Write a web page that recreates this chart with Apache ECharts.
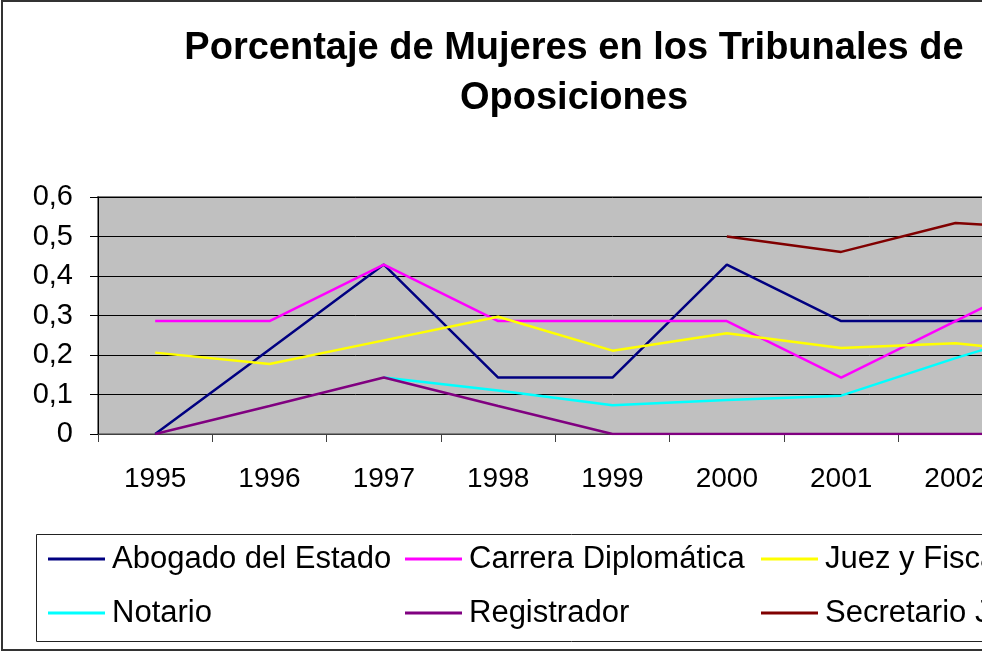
<!DOCTYPE html>
<html>
<head>
<meta charset="utf-8">
<script src="https://cdn.jsdelivr.net/npm/echarts@6/dist/echarts.min.js"></script>
<style>
html,body{margin:0;padding:0;overflow:hidden;background:#fff;width:982px;height:652px;}
#c{width:1148px;height:652px;}
</style>
</head>
<body>
<div id="c"></div>
<script>
const years = ['1995','1996','1997','1998','1999','2000','2001','2002','2003'];
const yTicks = [0, 0.1, 0.2, 0.3, 0.4, 0.5, 0.6];
const abogado = [0, 0.214, 0.429, 0.143, 0.143, 0.429, 0.286, 0.286, 0.286];
const carrera = [0.286, 0.286, 0.429, 0.286, 0.286, 0.286, 0.143, 0.286, 0.429];
const juez = [0.206, 0.177, 0.237, 0.297, 0.211, 0.255, 0.218, 0.230, 0.200];
const notario = [null, null, 0.143, 0.110, 0.073, 0.086, 0.097, 0.192, 0.280];
const registrador = [0, 0.071, 0.143, 0.071, 0, 0, 0, 0, 0];
const secretario = [null, null, null, null, null, 0.500, 0.461, 0.534, 0.517];

const names = ['Abogado del Estado','Carrera Diplomática','Juez y Fiscal','Notario','Registrador','Secretario Judicial'];
const colors = ['#000080','#FF00FF','#FFFF00','#00FFFF','#800080','#800000'];
const datas = [abogado, carrera, juez, notario, registrador, secretario];

const FONT = 'Liberation Sans, Arial, sans-serif';
const chart = echarts.init(document.getElementById('c'), null, {renderer:'canvas'});

function legendCol(left, items){
  return {
    orient:'vertical', left:left, top:543, padding:0,
    itemWidth:57, itemHeight:3, icon:'rect', itemGap:22,
    selectedMode:false,
    data:items,
    textStyle:{fontFamily:FONT, fontSize:31, color:'#000', lineHeight:32, padding:[0,0,0,2]}
  };
}

chart.setOption({
  backgroundColor:'#fff',
  animation:false,
  color:colors,
  title:{
    text:'Porcentaje de Mujeres en los Tribunales de\nOposiciones',
    left:'center', top:24, padding:0,
    textStyle:{fontFamily:FONT, fontSize:38, fontWeight:'bold', color:'#000', lineHeight:50}
  },
  legend:[
    legendCol(48, [names[0], names[3]]),
    legendCol(405, [names[1], names[4]]),
    legendCol(761, [names[2], names[5]])
  ],
  graphic:[
    {type:'rect', shape:{x:2, y:1, width:1143, height:649}, style:{fill:null, stroke:'#333', lineWidth:2}, silent:true, z:-1},
    {type:'rect', shape:{x:36.5, y:534.5, width:1070, height:107}, style:{fill:null, stroke:'#222', lineWidth:1}, silent:true}
  ],
  grid:{
    left:98, top:197, right:21, height:237,
    show:true, backgroundColor:'#C0C0C0', borderColor:'#808080', borderWidth:2
  },
  xAxis:{
    type:'category', data:years, boundaryGap:true,
    axisLine:{lineStyle:{color:'#404040', width:1}},
    axisTick:{show:true, length:8, lineStyle:{color:'#404040'}},
    axisLabel:{fontFamily:FONT, fontSize:28, color:'#000', margin:31}
  },
  yAxis:{
    type:'value', min:0, max:0.6, interval:0.1,
    axisLine:{show:true, lineStyle:{color:'#000', width:1}},
    axisTick:{show:true, length:8, lineStyle:{color:'#000'}},
    splitLine:{show:true, lineStyle:{color:'#000', width:1}},
    axisLabel:{fontFamily:FONT, fontSize:29, color:'#000', margin:25,
      formatter:function(v){ return String(Math.round(v*10)/10).replace('.', ','); }}
  },
  series: names.map(function(n, i){
    return {
      name:n, type:'line', data:datas[i], symbol:'none', showSymbol:false,
      connectNulls:false,
      lineStyle:{color:colors[i], width:2.5},
      itemStyle:{color:colors[i]}
    };
  })
});
</script>
</body>
</html>
